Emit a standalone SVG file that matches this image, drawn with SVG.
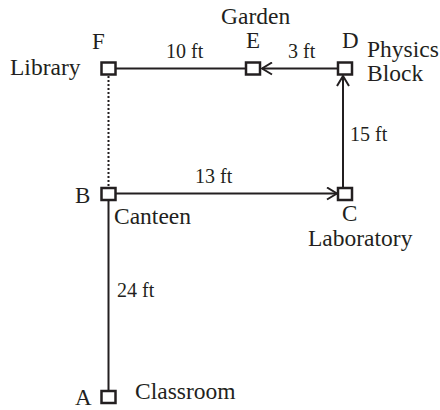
<svg xmlns="http://www.w3.org/2000/svg" width="440" height="410" viewBox="0 0 440 410">
<defs>
<style>
text{fill:#231f20}
.l{font-size:23px}
.n{font-size:23.5px}
.d{font-size:20px}
.node rect{fill:#fff;stroke:#231f20;stroke-width:2.5}
.edge{stroke:#231f20;stroke-width:2;fill:none}
.dot{stroke-dasharray:2 2}
</style>
<marker id="arr" viewBox="0 0 12 14" refX="11" refY="7" markerWidth="12" markerHeight="14" markerUnits="userSpaceOnUse" orient="auto">
<path d="M1,1 L11,7 L1,13" fill="none" stroke="#231f20" stroke-width="2"/>
</marker>
</defs>
<rect width="440" height="410" fill="#fff"/>
<g font-family="Times New Roman, Liberation Serif, Tinos, DejaVu Serif, Noto Serif, serif">
<g id="connectors">
<line class="edge" x1="116" y1="68.5" x2="246" y2="68.5"/>
<line class="edge" x1="337" y1="68.5" x2="262" y2="68.5" marker-end="url(#arr)"/>
<line class="edge" x1="343" y1="187" x2="343" y2="76" marker-end="url(#arr)"/>
<line class="edge" x1="116" y1="193.5" x2="337" y2="193.5" marker-end="url(#arr)"/>
<line class="edge" x1="108.5" y1="201" x2="108.5" y2="390"/>
<line class="edge dot" x1="108.5" y1="76" x2="108.5" y2="187"/>
<text class="d" x="166" y="58">10 ft</text>
<text class="d" x="288" y="58">3 ft</text>
<text class="d" x="350" y="141">15 ft</text>
<text class="d" x="195" y="183">13 ft</text>
<text class="d" x="117" y="297">24 ft</text>
</g>
<g id="F" class="node">
<rect x="101.5" y="62.5" width="14" height="12"/>
<text class="l" x="92" y="49">F</text>
<text class="n" x="10" y="75">Library</text>
</g>
<g id="E" class="node">
<rect x="246" y="62.5" width="14" height="12"/>
<text class="l" x="246" y="48">E</text>
<text class="n" x="221" y="24">Garden</text>
</g>
<g id="D" class="node">
<rect x="338" y="62.5" width="14" height="12"/>
<text class="l" x="342" y="48">D</text>
<text class="n" x="367" y="57">Physics</text>
<text class="n" x="367" y="81">Block</text>
</g>
<g id="C" class="node">
<rect x="338" y="188" width="14" height="12"/>
<text class="l" x="342" y="221">C</text>
<text class="n" x="308" y="246">Laboratory</text>
</g>
<g id="B" class="node">
<rect x="101.5" y="188" width="14" height="12"/>
<text class="l" x="75" y="203">B</text>
<text class="n" x="114" y="224">Canteen</text>
</g>
<g id="A" class="node">
<rect x="101.5" y="391" width="14" height="12"/>
<text class="l" x="75" y="405">A</text>
<text class="n" x="135" y="399">Classroom</text>
</g>
</g>
</svg>
